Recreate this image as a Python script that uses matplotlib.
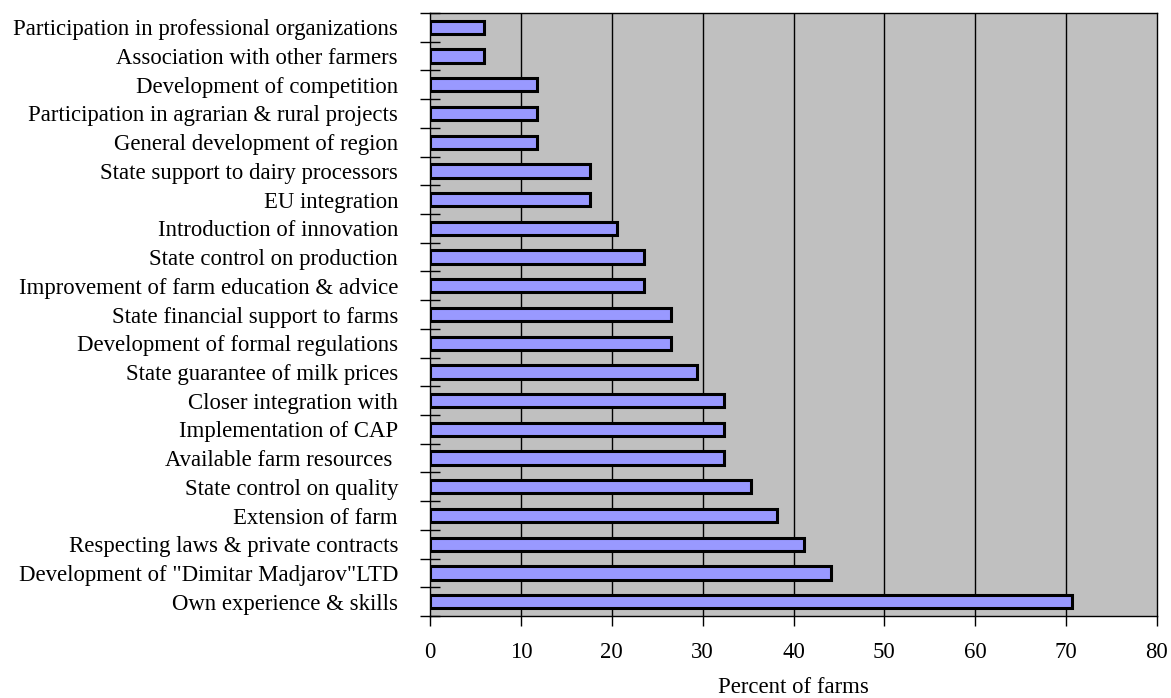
import matplotlib
matplotlib.use("Agg")
import matplotlib.pyplot as plt
import numpy as np

categories = [
    "Own experience & skills",
    "Development of \"Dimitar Madjarov\"LTD",
    "Respecting laws & private contracts",
    "Extension of farm",
    "State control on quality",
    "Available farm resources ",
    "Implementation of CAP",
    "Closer integration with",
    "State guarantee of milk prices",
    "Development of formal regulations",
    "State financial support to farms",
    "Improvement of farm education & advice",
    "State control on production",
    "Introduction of innovation",
    "EU integration",
    "State support to dairy processors",
    "General development of region",
    "Participation in agrarian & rural projects",
    "Development of competition",
    "Association with other farmers",
    "Participation in professional organizations",
]
values = [70.6, 44.1, 41.2, 38.2, 35.3, 32.4, 32.4, 32.4, 29.4, 26.5, 26.5,
          23.5, 23.5, 20.6, 17.6, 17.6, 11.8, 11.8, 11.8, 5.9, 5.9]
xticks = [0, 10, 20, 30, 40, 50, 60, 70, 80]

plt.rcParams['font.family'] = ['Liberation Serif', 'DejaVu Serif']
FS = 16.4

fig = plt.figure(figsize=(11.71, 6.98), dpi=100)
ax = fig.add_axes([430/1171, 1 - 616/698, (1157-430)/1171, (616-13)/698])
ax.set_facecolor('#C0C0C0')

y = np.arange(len(categories))
ax.barh(y, values, height=0.46, color='#9999FF', edgecolor='black', linewidth=2.2, zorder=3)

ax.set_xlim(0, 80)
ax.set_ylim(-0.5, len(categories) - 0.5)
ax.set_xticks(xticks)
ax.set_xticklabels([str(t) for t in xticks], fontsize=FS)
ax.tick_params(axis='x', direction='out', length=7, width=1, pad=11.5)
for t in xticks[1:-1]:
    ax.axvline(t, color='black', linewidth=1, zorder=1)

ax.set_yticks(y)
ax.set_yticklabels(categories, fontsize=FS)
ax.tick_params(axis='y', length=0, pad=23)
ax.set_yticks(np.arange(-0.5, len(categories), 1), minor=True)
ax.tick_params(axis='y', which='minor', direction='inout', length=14, width=1)

for s in ax.spines.values():
    s.set_linewidth(1)
    s.set_color('black')

ax.set_xlabel("Percent of farms", fontsize=FS, labelpad=10.5)

fig.savefig("out.png", dpi=100)
